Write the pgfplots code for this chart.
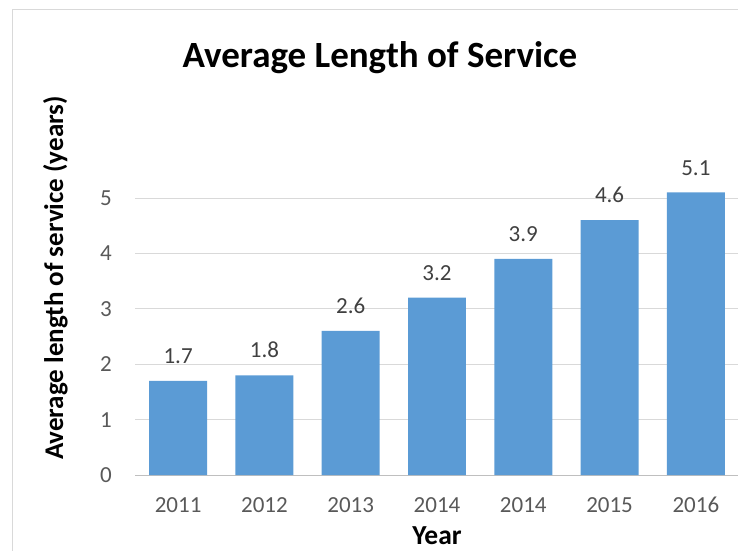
\documentclass[border=0pt]{standalone}
\usepackage{fontspec}
\setmainfont{Carlito}
\usepackage{pgfplots}
\pgfplotsset{compat=1.18}
\definecolor{barblue}{RGB}{91,155,213}
\definecolor{gridgray}{RGB}{217,217,217}
\definecolor{axisgray}{RGB}{191,191,191}
\definecolor{ticktext}{RGB}{89,89,89}
\definecolor{labeltext}{RGB}{64,64,64}
\begin{document}
\begin{tikzpicture}[x=1pt,y=1pt]
\path[use as bounding box] (0,0) rectangle (738,550);
% chart frame (cropped)
\draw[gridgray, line width=1.2pt] (12.5,-2) -- (12.5,540.5) -- (745,540.5);

\begin{axis}[
    at={(135pt,75pt)}, anchor=south west,
    scale only axis,
    width=604pt, height=277pt,
    xmin=-0.5, xmax=6.5,
    ymin=0, ymax=5,
    clip=false,
    axis x line=bottom,
    axis y line=left,
    x axis line style={draw=axisgray, line width=1pt, -},
    y axis line style={draw=none},
    xtick={0,1,2,3,4,5,6},
    xticklabels={2011,2012,2013,2014,2014,2015,2016},
    extra x ticks={-0.5,0.5,1.5,2.5,3.5,4.5,5.5,6.5},
    extra x tick labels={},
    extra x tick style={tick style={draw=axisgray, line width=1pt}},
    x tick style={draw=none},
    ytick={0,1,2,3,4,5},
    y tick style={draw=none},
    major tick length=8pt,
    tick align=outside,
    ymajorgrids,
    grid style={gridgray, line width=1pt},
    /pgf/number format/assume math mode=true,
    ticklabel style={font=\fontsize{23}{26}\selectfont, text=ticktext},
    xticklabel style={anchor=north, inner sep=0pt, yshift=-14pt},
    yticklabel style={anchor=east, inner sep=0pt, xshift=-15pt},
]
\addplot[
    ybar, bar width=0.672, bar shift=0pt,
    fill=barblue, draw=none,
    nodes near coords,
    nodes near coords style={
        font=\fontsize{23}{26}\selectfont, text=labeltext,
        anchor=south, inner sep=0pt, yshift=17pt,
        /pgf/number format/fixed, /pgf/number format/precision=1,
        /pgf/number format/fixed zerofill,
    },
] coordinates {
    (0,1.7) (1,1.8) (2,2.6) (3,3.2) (4,3.9) (5,4.6) (6,5.1)
};
\end{axis}

\node[anchor=base, font=\fontsize{37}{42}\selectfont\bfseries] at (380,482) {Average Length of Service};
\node[anchor=base, rotate=90, font=\fontsize{27}{31}\selectfont\bfseries] at (63,272) {Average length of service (years)};
\node[anchor=base, font=\fontsize{27.5}{31}\selectfont\bfseries] at (437,6) {Year};
\end{tikzpicture}
\end{document}
